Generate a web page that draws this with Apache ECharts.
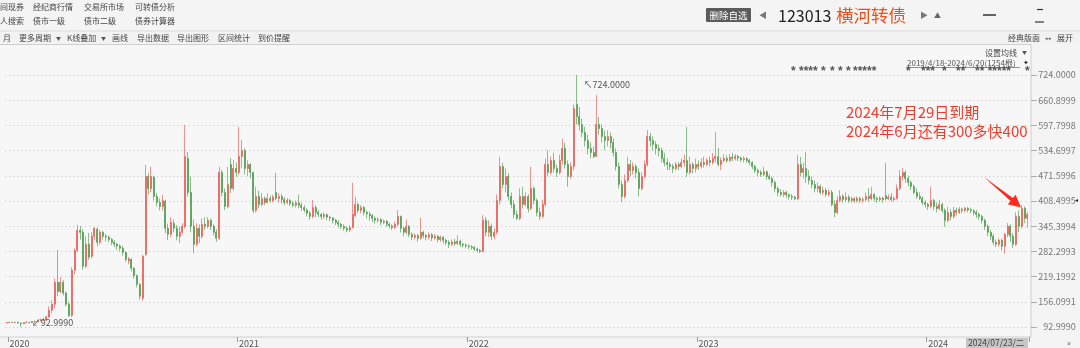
<!DOCTYPE html>
<html><head><meta charset="utf-8">
<script src="https://cdn.jsdelivr.net/npm/echarts@6/dist/echarts.min.js"></script>
<style>html,body{margin:0;padding:0;background:#f4f4f4;}#c{width:1080px;height:348px;}</style>
</head><body><div id="c"></div>
<script>
// candles: [open, close, low, high]
const k2019 = [[103,104,102,105]];
const k2020 = [[104,105,103,106],[105,104,103,106],[104,105,103,106],[105,103,102,106],[103,101,92.999,104],[101,104,100,105],[104,105,103,107],[105,104,102,106],[104,107,103,108],[107,106,104,109],
[106,109,105,111],[109,111,107,114],[111,110,108,116],[110,118,109,121],[118,135,116,145],[135,150,128,160],[150,205,140,215],[205,182,170,286],[182,205,178,218],[205,178,172,210],
[178,150,145,182],[150,122,118,155],[122,235,118,243],[235,285,225,290],[285,335,280,348],[335,330,312,346],[330,245,236,338],[245,300,240,320],[300,268,261,328],[270,320,265,330],
[320,340,310,343],[338,305,295,342],[305,330,300,336],[330,320,312,334],[320,318,308,326],[318,312,305,322],[312,305,298,316],[305,300,293,310],[300,296,286,304],[296,290,282,300],
[290,280,272,296],[280,262,256,282],[258,264,250,268],[262,240,232,265],[240,222,214,243],[222,200,192,224],[200,170,161,202],[165,270,159,273],[275,470,270,499],[470,440,425,478],
[440,470,430,494],[468,420,410,472],[420,405,395,428],[405,395,385,415],[395,410,385,424],[408,340,328,412],[340,325,311,352],[325,355,318,368],[352,340,330,362],[340,320,310,348],
[320,330,303,345],[330,345,325,353],[345,520,340,599],[515,430,420,531],[430,345,330,470],[345,300,278,362],[300,340,295,353],[340,320,303,350],[320,350,315,365],[350,345,336,368],
[345,360,340,368],[360,345,336,364],[345,330,322,350],[330,315,306,338],[315,480,311,494],[480,430,420,486],[430,395,386,440],[395,450,390,494],[500,440,428,516],[440,490,435,511],
[490,480,469,505]];
const k2021 = [[480,520,475,594],[520,535,490,561],[535,490,475,540],[490,500,470,510],[500,480,465,503],[480,385,378,482],[385,420,380,444],[420,400,390,435],[400,415,395,428],[415,405,398,420],
[405,415,402,428],[415,410,404,422],[410,418,405,424],[430,415,410,479],[415,420,405,428],[420,412,402,426],[412,405,398,418],[405,410,400,416],[410,402,396,414],[402,398,393,408],
[398,404,392,410],[404,398,390,424],[398,392,384,404],[392,386,380,398],[386,378,370,390],[378,370,361,384],[370,392,365,411],[392,380,368,398],[380,375,368,386],[375,370,362,378],
[370,374,364,380],[374,368,361,378],[368,366,358,372],[366,360,352,368],[360,355,348,364],[355,350,342,360],[350,345,338,354],[345,340,334,350],[340,336,330,345],[336,342,332,348],
[342,375,340,454],[372,400,368,419],[400,385,378,404],[385,392,378,398],[392,380,372,396],[380,376,365,385],[376,372,360,382],[372,365,356,376],[365,360,352,370],[360,362,354,368],
[362,355,348,366],[355,358,350,362],[358,350,344,360],[350,346,340,354],[346,342,336,350],[342,350,338,356],[350,370,345,386],[370,340,330,372],[340,330,320,344],[330,345,325,362],
[345,325,318,348],[325,318,310,330],[318,322,312,328],[322,315,306,326],[315,330,312,366],[330,322,315,334],[322,318,310,326],[318,324,312,330],[324,316,308,328],[316,320,310,326],
[320,312,305,324],[312,318,306,322],[318,310,302,320],[310,305,298,314],[305,300,291,310],[300,306,296,312],[306,302,296,314],[302,308,298,323],[308,300,294,312],[300,298,292,304],
[298,296,290,302]];
const k2022 = [[296,294,288,300],[294,292,286,298],[292,288,283,296],[288,285,280,292],[285,282,278,288],[282,360,280,373],[360,330,320,368],[330,345,318,360],[345,320,311,352],[320,330,312,340],
[330,410,325,425],[410,495,400,519],[495,450,440,504],[450,470,430,490],[470,420,410,478],[420,400,390,430],[400,375,365,410],[375,365,361,385],[365,420,360,440],[420,400,390,444],
[400,420,395,430],[420,390,380,425],[390,440,385,494],[440,410,400,445],[410,380,370,415],[380,370,361,392],[370,400,365,411],[400,500,395,515],[500,480,470,536],[480,510,475,520],
[510,490,480,529],[490,480,469,500],[480,510,475,525],[510,540,500,564],[540,500,490,554],[500,470,444,510],[470,495,465,505],[495,640,486,650],[650,620,600,724],[620,600,585,644],
[600,580,569,615],[580,560,545,594],[560,540,525,575],[540,530,516,555],[530,520,516,545],[520,600,519,674],[600,590,575,619],[590,570,555,600],[570,560,536,585],[560,570,545,586],
[570,555,540,580],[555,530,520,565],[530,495,485,540],[495,450,440,505],[450,420,406,460],[420,460,415,475],[460,500,455,519],[500,485,470,511],[485,495,475,505],[495,480,465,500],
[480,440,419,490],[440,470,435,480],[470,500,465,510],[500,570,495,586],[570,560,545,579],[560,550,535,570],[550,540,525,558],[540,535,520,550],[535,515,505,542],[515,505,495,529],
[505,500,486,515],[500,495,486,506],[495,490,479,502],[490,500,485,506],[500,495,486,506],[495,505,490,515],[505,510,494,524],[510,480,469,594],[480,500,475,519],[500,490,478,506],
[490,500,480,515]];
const k2023 = [[500,495,486,510],[495,505,490,515],[505,500,492,519],[500,510,495,516],[510,505,495,520],[505,515,500,529],[515,520,505,581],[520,500,495,541],[500,510,486,518],[510,515,505,525],
[515,510,504,522],[510,518,506,526],[518,515,508,529],[515,520,510,526],[520,516,508,524],[516,512,506,520],[512,515,505,520],[515,510,504,518],[510,505,498,514],[505,495,488,508],
[495,485,478,500],[485,480,470,490],[480,475,469,486],[475,482,470,494],[482,470,462,485],[470,465,461,476],[465,455,445,470],[455,440,430,460],[440,430,420,445],[430,425,419,438],
[425,430,418,436],[430,424,416,434],[424,420,412,428],[420,418,411,426],[418,414,411,422],[414,500,411,524],[500,480,470,519],[480,490,465,505],[490,470,454,531],[470,460,450,486],
[460,450,440,470],[450,440,430,460],[440,445,430,455],[445,430,425,450],[430,435,424,444],[435,425,419,440],[425,430,420,438],[430,400,395,436],[400,380,368,410],[380,410,375,420],
[410,420,405,436],[420,412,404,426],[412,418,406,430],[418,410,404,424],[410,414,404,420],[414,410,404,418],[410,415,405,420],[415,410,404,419],[410,412,404,418],[412,420,408,430],
[420,415,406,441],[415,425,410,444],[425,415,408,428],[415,412,404,420],[412,416,406,420],[416,412,404,419],[422,414,410,504],[414,418,410,425],[418,412,406,428],[412,415,408,420],
[415,440,412,450],[440,470,435,486],[470,480,460,491],[480,465,455,485],[465,455,445,472],[455,445,436,460],[445,430,425,450],[430,420,414,440],[420,415,411,430],[415,405,398,420],
[405,400,392,410]];
const k2024 = [[400,395,386,404],[395,410,390,444],[410,395,385,414],[395,390,380,405],[390,400,385,411],[400,385,378,404],[385,360,344,390],[360,380,355,394],[380,370,360,388],[370,385,365,394],
[385,380,372,392],[380,388,376,394],[388,385,378,392],[385,390,380,394],[390,386,380,394],[386,384,378,392],[384,380,372,388],[380,375,366,386],[375,370,361,380],[370,360,352,374],
[360,345,336,364],[345,330,320,350],[330,320,311,336],[320,305,298,326],[305,300,293,312],[300,310,294,315],[310,295,285,314],[295,325,276,328],[325,345,318,353],[345,320,306,350],
[320,300,291,328],[300,370,296,380],[370,345,330,385],[345,390,340,398],[390,365,353,395],[365,375,341,381]];

const yearBlocks = [['2019',k2019],['2020',k2020],['2021',k2021],['2022',k2022],['2023',k2023],['2024',k2024]];
const yTickMin = 92.999, yTickMax = 724, yTickStep = 63.1001;

const cats = [], candles = [];
yearBlocks.forEach(([y, arr]) => arr.forEach(c => { cats.push(y); candles.push(c); }));
const showYear = (idx, val) => idx > 0 && cats[idx - 1] !== val;

const FF = '"Noto Sans CJK SC", "Noto Sans", sans-serif';
function T(text, x, y, size, color, extra) {
  return Object.assign({ type: 'text', x: x, y: y, z: 100, silent: true,
    style: Object.assign({ text: text, fill: color, font: size + 'px ' + FF, verticalAlign: 'middle' }, extra || {}) });
}
function L(x1, y1, x2, y2, color, w) {
  return { type: 'line', z: 50, silent: true, shape: { x1, y1, x2, y2 }, style: { stroke: color, lineWidth: w || 1 } };
}

const graphics = [
  { type: 'rect', z: -10, silent: true, shape: { x: 0, y: 0, width: 1080, height: 31 }, style: { fill: '#f4f4f4' } },
  { type: 'rect', z: -10, silent: true, shape: { x: 0, y: 31, width: 1080, height: 13 }, style: { fill: '#f2f2f2' } },
  { type: 'rect', z: -9, silent: true, shape: { x: -1, y: 44.5, width: 1032, height: 292.5 }, style: { fill: '#f7f7f7', stroke: '#cfcfcf', lineWidth: 1 } },
  L(0, 31, 1080, 31, '#dcdcdc'),
  // menu
  T('间现券', 0, 7, 8, '#444'), T('经纪商行情', 33, 7, 8, '#444'), T('交易所市场', 84, 7, 8, '#444'), T('可转债分析', 135, 7, 8, '#444'),
  T('人搜索', 0, 21, 8, '#444'), T('债市一级', 33, 21, 8, '#444'), T('债市二级', 84, 21, 8, '#444'), T('债券计算器', 135, 21, 8, '#444'),
  // title bar
  { type: 'rect', z: 60, silent: true, shape: { x: 706, y: 8, width: 45, height: 14, r: 1 }, style: { fill: '#5b5b5b' } },
  T('删除自选', 728.5, 15, 9.5, '#ffffff', { align: 'center' }),
  T('◀', 759, 15, 8, '#777'),
  T('123013', 778, 15.5, 16, '#222'),
  T('横河转债', 836, 15.5, 17.5, '#f0501e'),
  T('▶', 920, 15, 8, '#777'),
  T('▲', 934, 15, 7, '#666'),
  L(983, 15, 996, 15, '#333', 1.5),
  L(1037, 9.5, 1043, 9.5, '#333', 1.2), L(1035, 22, 1044, 22, '#333', 1.2),
  // toolbar row 2
  T('月', 3, 38, 8, '#444'), T('更多周期', 19, 38, 8, '#444'), T('▼', 56, 38, 5, '#555'),
  T('K线叠加', 67, 38, 8, '#444'), T('▼', 101, 38, 5, '#555'), T('画线', 112, 38, 8, '#444'),
  T('导出数据', 137, 38, 8, '#444'), T('导出图形', 177, 38, 8, '#444'), T('区间统计', 218, 38, 8, '#444'), T('到价提醒', 258, 38, 8, '#444'),
  T('经典版面', 1008, 38, 8, '#444'), T('◂◂', 1045, 38, 5, '#555'), T('展开', 1057, 38, 8, '#444'),
  // inside plot header
  T('设置均线', 985, 52.5, 8, '#444'), T('▼', 1022, 52.5, 5, '#555'),
  T('2019/4/18-2024/6/20(1254根)', 907, 63, 8, '#555'),
  L(907, 67.5, 1020, 67.5, '#777', 0.8),
  T('✦', 1023, 62, 7, '#333'),
  T('* **** *', 791, 72, 8, '#555', { fontWeight: 'bold' }),
  T('* * *', 830, 72, 8, '#555', { fontWeight: 'bold' }),
  T('*****', 853, 72, 8, '#555', { fontWeight: 'bold' }),
  T('*', 906, 72, 8, '#555', { fontWeight: 'bold' }),
  T('***', 921, 72, 8, '#555', { fontWeight: 'bold' }),
  T('*', 942, 72, 8, '#555', { fontWeight: 'bold' }),
  T('**', 956, 72, 8, '#555', { fontWeight: 'bold' }),
  T('** **', 975, 72, 8, '#555', { fontWeight: 'bold' }),
  T('***', 997, 72, 8, '#555', { fontWeight: 'bold' }),
  T('*', 1025, 72, 8, '#555', { fontWeight: 'bold' }),
  // annotation
  T('2024年7月29日到期', 846, 112, 15, '#f23c2c'),
  T('2024年6月还有300多快400', 846, 131, 15, '#f23c2c'),
  { type: 'polygon', z: 90, silent: true, shape: { points: [[984, 177], [1010.6, 200.9], [1007.8, 204.2], [1021, 207.5], [1015.6, 194.8], [1012.8, 198.0]] }, style: { fill: '#ff2a1a' } },
  // bottom bar
  { type: 'rect', z: 60, silent: true, shape: { x: 966, y: 338, width: 62, height: 10 }, style: { fill: '#c6c6c6' } },
  T('2024/07/23/二', 968, 343, 8.5, '#444'),
  T('»', 1067, 343, 8, '#555'),
  T('◂', 1075, 200, 6, '#222')
];

const chart = echarts.init(document.getElementById('c'), null, { renderer: 'canvas' });
chart.setOption({
  animation: false,
  backgroundColor: 'transparent',
  grid: { left: 5.17, right: 51.2, top: 75, bottom: 21, containLabel: false },
  xAxis: {
    type: 'category', data: cats, boundaryGap: true, offset: 10,
    axisLine: { show: false },
    axisTick: { show: true, interval: showYear, length: 5, lineStyle: { color: '#999' } },
    axisLabel: { interval: showYear, align: 'left', margin: 2, fontSize: 9, color: '#555', fontFamily: FF },
    splitLine: { show: false }
  },
  yAxis: {
    type: 'value', position: 'right', min: yTickMin, max: yTickMax, interval: yTickStep, offset: 2, scale: true,
    axisLine: { show: false },
    axisTick: { show: true, length: 6, lineStyle: { color: '#aaa' } },
    axisLabel: { formatter: v => v.toFixed(4), margin: 45, align: 'right', fontSize: 9, color: '#777', fontFamily: FF },
    splitLine: { show: true, lineStyle: { type: [1, 3], color: '#c4c4c4' } }
  },
  series: [{
    type: 'candlestick', data: candles, barWidth: 1.5,
    itemStyle: { color: '#ec4b44', color0: '#3a963a', borderColor: '#ec4b44', borderColor0: '#3a963a', borderWidth: 0.6 },
    markPoint: {
      symbol: 'circle', symbolSize: 0,
      label: { show: true, fontSize: 9, color: '#555', fontFamily: FF },
      data: [
        { type: 'max', valueDim: 'highest', label: { position: 'right', offset: [2, 10], formatter: p => '↖' + Number(p.value).toFixed(4) } },
        { type: 'min', valueDim: 'lowest', label: { position: 'right', offset: [6, -4], formatter: p => '↙' + Number(p.value).toFixed(4) } }
      ]
    }
  }],
  graphic: graphics
});
</script>
</body></html>
